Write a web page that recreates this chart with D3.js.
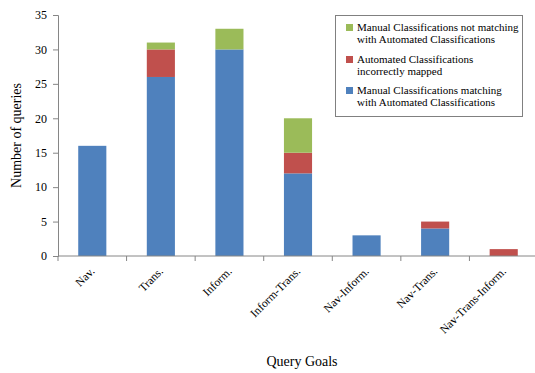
<!DOCTYPE html>
<html>
<head>
<meta charset="utf-8">
<script src="https://cdn.jsdelivr.net/npm/d3@7"></script>
<style>
  body { margin: 0; background: #fff; }
  svg { display: block; }
  svg text { font-family: "Liberation Serif", "Times New Roman", serif; }
</style>
</head>
<body>
<svg id="chart" width="535" height="373"></svg>
<script>
// Query goal categories along the x axis
const categories = ["Nav.", "Trans.", "Inform.", "Inform-Trans.", "Nav-Inform.", "Nav-Trans.", "Nav-Trans-Inform."];

// Stacked series, bottom to top
const matching    = [16, 26, 30, 12, 3, 4, 0];
const incorrect   = [0, 4, 0, 3, 0, 1, 1];
const notMatching = [0, 1, 3, 5, 0, 0, 0];

const seriesNames = [
  "Manual Classifications matching with Automated Classifications",
  "Automated Classifications incorrectly mapped",
  "Manual Classifications not matching with Automated Classifications"
];
const seriesColors = ["#4F81BD", "#C0504D", "#9BBB59"];

const yTicks = [0, 5, 10, 15, 20, 25, 30, 35];

const serif = "'Liberation Serif', 'Times New Roman', serif";
const svg = d3.select("#chart");
const margin = { left: 58, right: -3, top: 15, bottom: 117 };
const W = 535, H = 373;

const x = d3.scaleBand()
  .domain(categories)
  .range([margin.left, W - margin.right])
  .paddingInner(0.59)
  .paddingOuter(0.295);

const y = d3.scaleLinear()
  .domain([0, 35])
  .range([H - margin.bottom, margin.top]);

// Build stacked rows
const rows = categories.map((c, i) => ({ cat: c, s0: matching[i], s1: incorrect[i], s2: notMatching[i] }));
const stack = d3.stack().keys(["s0", "s1", "s2"]);
const layers = stack(rows);

const axisColor = "#868686";

// Bars
svg.append("g").selectAll("g")
  .data(layers)
  .join("g")
  .attr("fill", (d, i) => seriesColors[i])
  .selectAll("rect")
  .data(d => d.filter(v => v[1] - v[0] > 0))
  .join("rect")
  .attr("x", d => x(d.data.cat))
  .attr("width", x.bandwidth())
  .attr("y", d => y(d[1]))
  .attr("height", d => y(d[0]) - y(d[1]));

// Y axis
const yAxis = svg.append("g")
  .attr("transform", `translate(${margin.left},0)`)
  .attr("font-family", serif)
  .call(d3.axisLeft(y).tickValues(yTicks).tickSize(5).tickPadding(6));
yAxis.attr("font-family", serif).attr("font-size", 12);
yAxis.select(".domain").attr("stroke", axisColor);
yAxis.selectAll(".tick line").attr("stroke", axisColor);
yAxis.selectAll(".tick text")
  .attr("fill", "#000")
  .attr("font-family", serif)
  .attr("font-size", 12);

// X axis: ticks sit at band boundaries
const x0 = y(0);
svg.append("line")
  .attr("x1", margin.left).attr("x2", W)
  .attr("y1", x0).attr("y2", x0)
  .attr("stroke", axisColor);
const step = x.step();
const boundaries = d3.range(categories.length + 1).map(i => margin.left + i * step);
svg.append("g").selectAll("line")
  .data(boundaries)
  .join("line")
  .attr("x1", d => d).attr("x2", d => d)
  .attr("y1", x0).attr("y2", x0 + 5)
  .attr("stroke", axisColor);

// Category labels, rotated
svg.append("g").selectAll("text")
  .data(categories)
  .join("text")
  .attr("transform", d => `translate(${x(d) + x.bandwidth() / 2 + 3},${x0 + 16}) rotate(-45)`)
  .attr("text-anchor", "end")
  .attr("font-family", serif)
  .attr("font-size", 11.6)
  .text(d => d);

// Axis titles
svg.append("text")
  .attr("transform", `translate(21,${(y(0) + y(35)) / 2}) rotate(-90)`)
  .attr("text-anchor", "middle")
  .attr("font-family", serif)
  .attr("font-size", 14)
  .text("Number of queries");

svg.append("text")
  .attr("x", 302).attr("y", 366)
  .attr("text-anchor", "middle")
  .attr("font-family", serif)
  .attr("font-size", 14)
  .text("Query Goals");

// Legend (top to bottom: green, red, blue)
const legend = svg.append("g");
legend.append("rect")
  .attr("x", 335.5).attr("y", 15.5)
  .attr("width", 187).attr("height", 101)
  .attr("fill", "#fff").attr("stroke", "#808080");

const legendItems = [
  { color: seriesColors[2], lines: ["Manual Classifications not matching", "with Automated Classifications"], y: 27 },
  { color: seriesColors[1], lines: ["Automated Classifications", "incorrectly mapped"], y: 59 },
  { color: seriesColors[0], lines: ["Manual Classifications matching", "with Automated Classifications"], y: 90 }
];
legendItems.forEach(item => {
  legend.append("rect")
    .attr("x", 346).attr("y", item.y - 3)
    .attr("width", 7).attr("height", 7)
    .attr("fill", item.color);
  item.lines.forEach((ln, j) => {
    legend.append("text")
      .attr("x", 357).attr("y", item.y + 4 + j * 12)
      .attr("font-family", serif)
      .attr("font-size", 11)
      .text(ln);
  });
});
</script>
</body>
</html>
